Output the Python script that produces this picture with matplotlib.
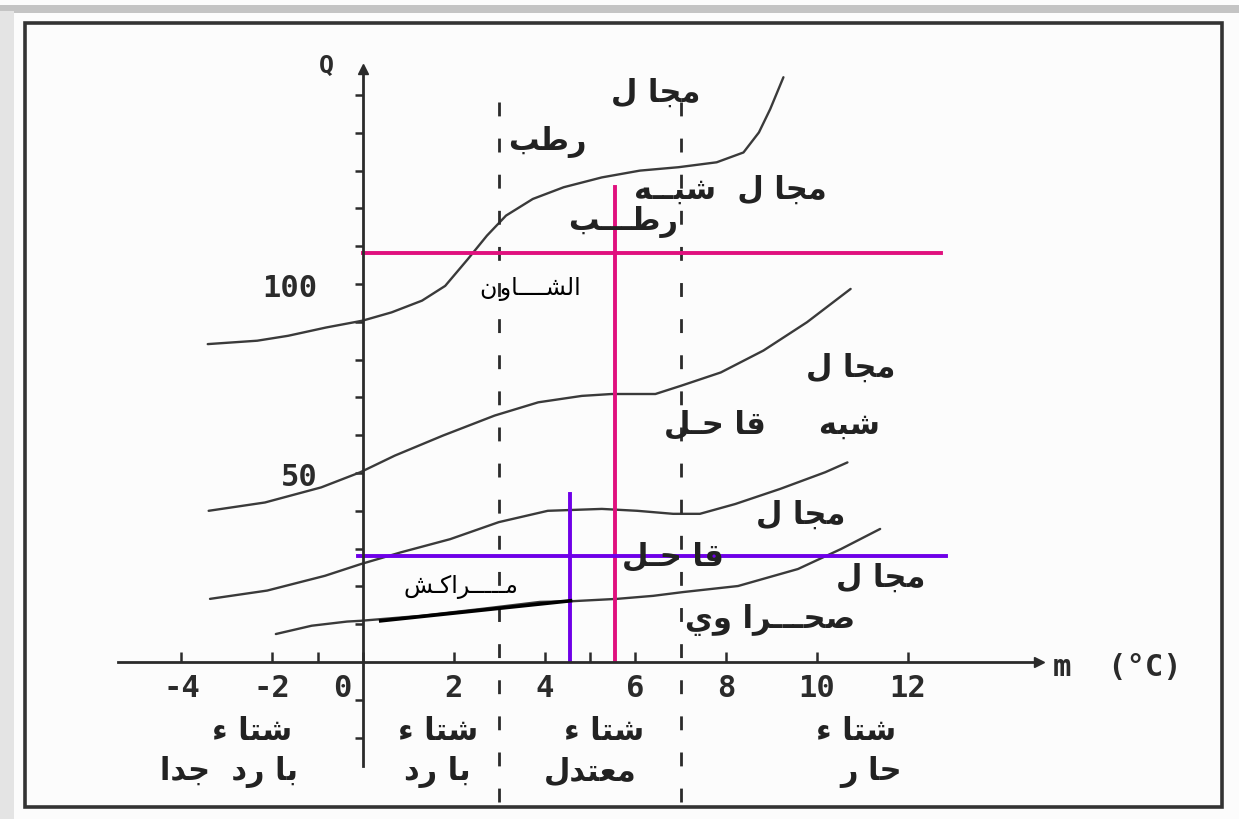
import matplotlib
matplotlib.use('Agg')
import matplotlib.pyplot as plt
import matplotlib.transforms as mtransforms
from matplotlib.patches import Rectangle

# ---------------- data (m in °C, Q) ----------------
# boundaries between bioclimatic zones (Emberger climagram)
humid_m = [-3.42, -2.33, -1.65, -0.81, -0.01, 0.63, 1.30, 1.81, 2.31, 2.73, 3.15,
           3.74, 4.42, 5.26, 6.10, 6.95, 7.79, 8.38, 8.72, 8.97, 9.26]
humid_q = [84.1, 85.0, 86.3, 88.5, 90.3, 92.5, 95.6, 99.5, 106.6, 112.8, 118.1,
           122.5, 125.6, 128.2, 130.0, 130.9, 132.2, 134.8, 140.1, 146.3, 154.7]

subhumid_m = [-3.40, -2.16, -0.92, -0.06, 0.70, 1.76, 2.90, 3.86, 4.82, 5.48,
              6.44, 7.01, 7.88, 8.82, 9.78, 10.74]
subhumid_q = [40.0, 42.2, 46.2, 50.2, 54.6, 59.9, 65.2, 68.7, 70.4, 70.9,
              70.9, 73.1, 76.6, 82.4, 89.9, 98.7]

semiarid_m = [-3.37, -2.11, -0.84, -0.05, 0.83, 1.92, 2.99, 4.07, 5.26, 6.04,
              6.83, 7.42, 8.20, 9.19, 10.18, 10.67]
semiarid_q = [16.7, 18.9, 22.8, 25.9, 29.0, 32.5, 37.0, 40.0, 40.5, 40.0,
              39.2, 39.2, 41.8, 45.8, 50.2, 52.8]

arid_m = [-1.92, -1.13, -0.35, -0.05, 1.26, 2.58, 3.90, 4.63, 5.59, 6.39,
          7.05, 8.26, 9.58, 10.53, 11.39]
arid_q = [7.4, 9.6, 10.7, 10.9, 12.2, 14.0, 15.9, 16.1, 16.7, 17.5,
          18.5, 20.1, 24.6, 29.9, 35.2]

winter_bounds = [3, 7]

# stations
chaouen_m, chaouen_q = 5.55, 108.1
marrakech_m, marrakech_q = 4.57, 28.1
marrakech_seg_m = [0.39, 4.57]
marrakech_seg_q = [10.9, 16.2]

xtick_vals = [-4, -2, 0, 2, 4, 6, 8, 10, 12]
ytick_vals = [50, 100]

# zone labels: text, m, Q
zone_labels = [
    ('مجا ل', 6.45, 150.8),
    ('رطب', 4.07, 137.8),
    ('مجا ل  شبــه', 8.10, 125.0),
    ('رطـــب', 5.73, 116.7),
    ('مجا ل', 10.75, 78.0),
    ('شبه     قا حـل', 9.00, 63.0),
    ('مجا ل', 9.65, 39.2),
    ('قا حـل', 6.83, 28.3),
    ('مجا ل', 11.40, 22.5),
    ('صحـــرا وي', 8.96, 11.4),
]
winter_labels = [
    ('شتا ء', -2.44, -18.0), ('با رد  جدا', -2.95, -28.8),
    ('شتا ء', 1.65, -18.0), ('با رد', 1.63, -28.8),
    ('شتا ء', 5.30, -18.0), ('معتدل', 5.00, -28.8),
    ('شتا ء', 10.86, -18.0), ('حا ر', 11.20, -28.8),
]
station_labels = [
    ('الشــــاو\u200aن', 3.68, 98.9),
    ('مـــــراكـش', 2.15, 20.1),
]

# ---------------- arabic shaping (presentation forms, visual order) ----------------
FORMS = {
    'ء': (0xFE80, 'N'), 'ا': (0xFE8D, 'R'), 'ب': (0xFE8F, 'D'), 'ت': (0xFE95, 'D'),
    'ج': (0xFE9D, 'D'), 'ح': (0xFEA1, 'D'), 'د': (0xFEA9, 'R'), 'ر': (0xFEAD, 'R'),
    'ش': (0xFEB5, 'D'), 'ص': (0xFEB9, 'D'), 'ط': (0xFEC1, 'D'), 'ع': (0xFEC9, 'D'),
    'ق': (0xFED5, 'D'), 'ك': (0xFED9, 'D'), 'ل': (0xFEDD, 'D'), 'م': (0xFEE1, 'D'),
    'ن': (0xFEE5, 'D'), 'ه': (0xFEE9, 'D'), 'و': (0xFEED, 'R'), 'ي': (0xFEF1, 'D'),
    'ـ': (0x0640, 'C'),
}


def jtype(c):
    return FORMS[c][1] if c in FORMS else None


def shape(s):
    out = []
    for i, c in enumerate(s):
        t = jtype(c)
        if t is None or t == 'C':
            out.append(c)
            continue
        if t == 'N':
            out.append(chr(FORMS[c][0]))
            continue
        prev = i > 0 and jtype(s[i - 1]) in ('D', 'C')
        nxt = t == 'D' and i + 1 < len(s) and jtype(s[i + 1]) in ('D', 'R', 'C')
        k = 3 if (prev and nxt) else 1 if prev else 2 if nxt else 0
        out.append(chr(FORMS[c][0] + k))
    return ''.join(reversed(out))


# ---------------- figure ----------------
ink = '#2b2b2b'
fig = plt.figure(figsize=(12.39, 8.2), dpi=100, facecolor='#fcfcfc')
ax = fig.add_axes([25 / 1239, 1 - 808 / 820, 1197 / 1239, 784 / 820])
ax.set_xlim(-7.445, 18.92)
ax.set_ylim(-38.36, 169.05)
ax.set_facecolor('none')

# scan shadow at the page edge
fig.add_artist(Rectangle((0, 1 - 14 / 820), 1, 8 / 820, transform=fig.transFigure,
                         color='#c4c4c4', lw=0))
fig.add_artist(Rectangle((0, 0), 14 / 1239, 1 - 12 / 820, transform=fig.transFigure,
                         color='#e4e4e4', lw=0))

# outer frame
ax.add_patch(Rectangle((0, 0), 1, 1, transform=ax.transAxes, fill=False,
                       lw=2.6, ec='#333333', clip_on=False))

# coordinate axes through the origin
for s in ['top', 'right']:
    ax.spines[s].set_visible(False)
ax.spines['left'].set_position(('data', 0))
ax.spines['bottom'].set_position(('data', 0))
ax.spines['left'].set_bounds(-27.5, 157)
ax.spines['bottom'].set_bounds(-5.4, 14.9)
for s in ['left', 'bottom']:
    ax.spines[s].set_linewidth(2.0)
    ax.spines[s].set_color(ink)
ax.plot(14.9, 0, marker='>', ms=7, color=ink, clip_on=False)
ax.plot(0, 157, marker='^', ms=7, color=ink, clip_on=False)

mono = {'family': 'DejaVu Sans Mono', 'weight': 'bold', 'size': 22}
ax.set_xticks(xtick_vals)
ax.set_xticklabels([str(v) for v in xtick_vals], fontdict=mono, color=ink)
ax.set_xticks([-1, 5], minor=True)
ax.xaxis.set_tick_params(which='both', direction='in', length=7, width=1.8,
                         color=ink, pad=8)
zero_lbl = ax.get_xticklabels()[2]
zero_lbl.set_ha('right')
zero_lbl.set_transform(zero_lbl.get_transform() +
                       mtransforms.ScaledTranslation(-12 / 100, 0, fig.dpi_scale_trans))

ax.set_yticks(ytick_vals)
ax.set_yticklabels([str(v) for v in ytick_vals], fontdict=mono, color=ink)
ax.set_yticks([v for v in range(-20, 160, 10) if v not in ytick_vals and v != 0],
              minor=True)
ax.yaxis.set_tick_params(which='both', direction='out', length=6, width=1.8,
                         color=ink, pad=27)

ax.text(-0.8, 158, 'Q', fontdict={**mono, 'size': 18}, color=ink,
        ha='center', va='center')
ax.text(15.2, -1.3, 'm  (°C)', fontdict=mono, color=ink, ha='left', va='center')

# zone boundaries
for mm, qq in [(humid_m, humid_q), (subhumid_m, subhumid_q),
               (semiarid_m, semiarid_q), (arid_m, arid_q)]:
    ax.plot(mm, qq, color='#3a3a3a', lw=1.7, solid_capstyle='round')

# winter type boundaries
for b in winter_bounds:
    ax.plot([b, b], [-37, 154], color=ink, lw=2.0, ls=(0, (5, 8)))

# Chefchaouen (magenta)
pink = '#e0117e'
ax.plot([0, 12.74], [chaouen_q, chaouen_q], color=pink, lw=2.8)
ax.plot([chaouen_m, chaouen_m], [0.5, 125.6], color=pink, lw=2.8)

# Marrakech (violet)
violet = '#6f00e8'
ax.plot([-0.1, 12.84], [marrakech_q, marrakech_q], color=violet, lw=2.8)
ax.plot([marrakech_m, marrakech_m], [0.5, 44.4], color=violet, lw=2.8)
ax.plot(marrakech_seg_m, marrakech_seg_q, color='black', lw=2.6)

arab_bold = dict(family=['DejaVu Sans'], weight='bold', size=22, color='#222222',
                 ha='center', va='center')
for t, mm, qq in zone_labels + winter_labels:
    ax.text(mm, qq, shape(t), **arab_bold)
for t, mm, qq in station_labels:
    ax.text(mm, qq, shape(t), family=['DejaVu Sans'], size=17, color='black',
            ha='center', va='center')

fig.savefig('out.png', dpi=100, facecolor=fig.get_facecolor())
